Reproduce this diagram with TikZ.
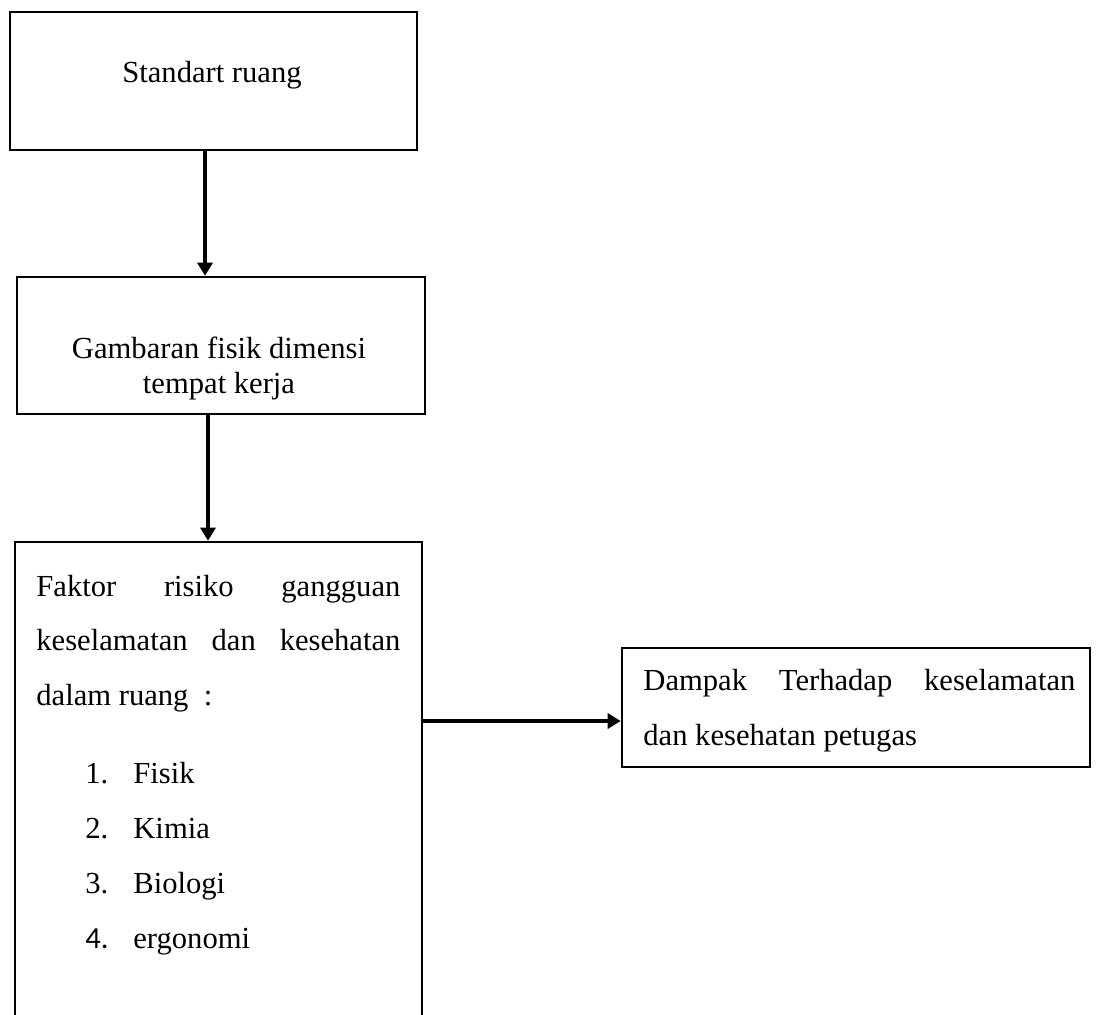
\documentclass[tikz,border=0pt]{standalone}
\usepackage{fontspec}
\setmainfont{Liberation Serif}
\newfontfamily\numfont{Carlito}
\usetikzlibrary{arrows.meta}
\begin{document}
\begin{tikzpicture}[x=0.5pt,y=-0.5pt,
  box/.style={draw,line width=1.3pt,rectangle,inner sep=0pt},
  txt/.style={inner sep=0pt,font=\fontsize{15.3}{18}\selectfont},
  conn/.style={line width=1.6pt,-{Triangle[length=6.5pt,width=7.5pt]}}]
\useasboundingbox (0,0) rectangle (1096,1014);
\clip (0,0) rectangle (1096,1014);
% boxes
\node[box,minimum width=203.5pt,minimum height=69pt] (b1) at (213.5,81) {};
\node[box,minimum width=204pt,minimum height=68.5pt] (b2) at (221,345.5) {};
\node[box,minimum width=203.5pt,minimum height=249pt] (b3) at (218.5,791) {};
\node[box,minimum width=234pt,minimum height=59.5pt] (b4) at (856,707.5) {};
% texts
\node[txt,anchor=base] (t1) at (212,82) {Standart ruang};
\node[txt,anchor=base] (t2a) at (219,358) {Gambaran fisik dimensi};
\node[txt,anchor=base] (t2b) at (219,393) {tempat kerja};
\node[txt,anchor=base west] (f1) at (36,596) {\makebox[182pt][s]{Faktor risiko gangguan}};
\node[txt,anchor=base west] (f2) at (36,650) {\makebox[182pt][s]{keselamatan dan kesehatan}};
\node[txt,anchor=base west] (f3) at (36,705) {dalam ruang\ \ :};
\node[txt,anchor=base west] (n1) at (85,783) {1.};
\node[txt,anchor=base west] (i1) at (133,783) {Fisik};
\node[txt,anchor=base west] (n2) at (85,838) {2.};
\node[txt,anchor=base west] (i2) at (133,838) {Kimia};
\node[txt,anchor=base west] (n3) at (85,893) {3.};
\node[txt,anchor=base west] (i3) at (133,893) {Biologi};
\node[txt,anchor=base west] (n4) at (85,948) {\numfont 4.};
\node[txt,anchor=base west] (i4) at (133,948) {ergonomi};
\node[txt,anchor=base west] (d1) at (643,690) {\makebox[216pt][s]{Dampak Terhadap keselamatan}};
\node[txt,anchor=base west] (d2) at (643,745) {dan kesehatan petugas};
% connectors
\coordinate (x1) at (205,0);
\coordinate (x2) at (208,0);
\coordinate (y3) at (0,721);
\draw[conn] (x1 |- b1.south) -- (x1 |- b2.north);
\draw[conn] (x2 |- b2.south) -- (x2 |- b3.north);
\draw[conn] (b3.east |- y3) -- (b4.west |- y3);
\end{tikzpicture}
\end{document}
